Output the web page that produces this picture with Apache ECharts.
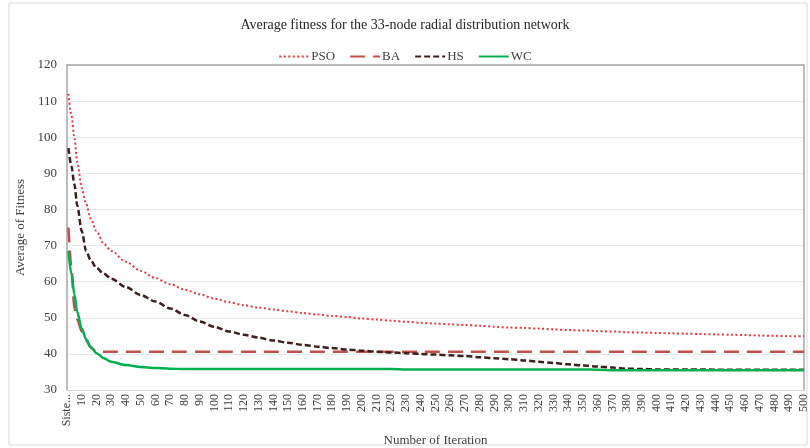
<!DOCTYPE html>
<html>
<head>
<meta charset="utf-8">
<script src="https://cdn.jsdelivr.net/npm/echarts@6/dist/echarts.min.js"></script>
<style>
  html, body { margin: 0; padding: 0; background: #fff; }
  #chart { width: 810px; height: 448px; }
</style>
</head>
<body>
<div id="chart"></div>
<script>
// Iteration numbers at which the average fitness was sampled
const iterations = [1, 3, 5, 7, 10, 13, 16, 20, 25,
  30, 40, 50, 60, 70, 80, 90, 100, 110, 120,
  130, 140, 150, 160, 170, 180, 190, 200, 210, 220,
  230, 240, 250, 260, 270, 280, 290, 300, 310, 320,
  330, 340, 350, 360, 370, 380, 390, 400, 410, 420,
  430, 440, 450, 460, 470, 480, 490, 500];

const psoValues = [112, 106, 100, 93, 86, 81.5, 77.5, 74, 70.5,
  68.5, 65.5, 63, 61, 59.3, 57.8, 56.5, 55.3, 54.3, 53.5,
  52.8, 52.3, 51.8, 51.3, 50.9, 50.5, 50.2, 49.8, 49.5, 49.2,
  48.9, 48.6, 48.4, 48.2, 48.0, 47.8, 47.5, 47.3, 47.2, 47.0,
  46.8, 46.6, 46.5, 46.3, 46.2, 46.0, 45.9, 45.8, 45.7, 45.6,
  45.5, 45.4, 45.3, 45.2, 45.1, 45.0, 44.9, 44.9];

const baValues = [75, 64, 52.5, 49.5, 46.2, 43.8, 41.8, 40.6, 40.6,
  40.6, 40.6, 40.6, 40.6, 40.6, 40.6, 40.6, 40.6, 40.6, 40.6,
  40.6, 40.6, 40.6, 40.6, 40.6, 40.6, 40.6, 40.6, 40.6, 40.6,
  40.6, 40.6, 40.6, 40.6, 40.6, 40.6, 40.6, 40.6, 40.6, 40.6,
  40.6, 40.6, 40.6, 40.6, 40.6, 40.6, 40.6, 40.6, 40.6, 40.6,
  40.6, 40.6, 40.6, 40.6, 40.6, 40.6, 40.6, 40.6];

const hsValues = [97, 92, 87, 81, 74, 68.5, 66, 63.8, 62.2,
  60.8, 58.5, 56.3, 54.5, 52.6, 50.8, 49, 47.5, 46.2, 45.3,
  44.5, 43.7, 43.1, 42.5, 42.0, 41.6, 41.2, 40.9, 40.6, 40.4,
  40.2, 40.0, 39.8, 39.6, 39.4, 39.1, 38.8, 38.5, 38.2, 37.8,
  37.5, 37.1, 36.8, 36.5, 36.2, 35.9, 35.8, 35.7, 35.7, 35.7,
  35.7, 35.6, 35.6, 35.6, 35.6, 35.6, 35.6, 35.6];

const wcValues = [68.5, 62, 56.5, 51.5, 47, 44, 42, 40.2, 38.8,
  37.8, 36.9, 36.4, 36.1, 35.9, 35.8, 35.8, 35.8, 35.8, 35.8,
  35.8, 35.8, 35.8, 35.8, 35.8, 35.8, 35.8, 35.8, 35.8, 35.8,
  35.7, 35.7, 35.7, 35.7, 35.7, 35.7, 35.7, 35.7, 35.7, 35.7,
  35.7, 35.7, 35.7, 35.6, 35.5, 35.5, 35.5, 35.5, 35.5, 35.5,
  35.5, 35.5, 35.5, 35.5, 35.5, 35.5, 35.5, 35.5];

const seriesNames = ['PSO', 'BA', 'HS', 'WC'];
const firstTickLabel = 'Siste...';

const FONT = '"Liberation Serif", "Times New Roman", serif';
const TEXT = '#404040';

function pairs(values) {
  return iterations.map((it, i) => [it, values[i]]);
}

const chart = echarts.init(document.getElementById('chart'), null, { renderer: 'canvas' });

chart.setOption({
  backgroundColor: '#ffffff',
  animation: false,
  title: {
    text: 'Average fitness for the 33-node radial distribution network',
    left: 'center',
    top: 13,
    textStyle: { fontFamily: FONT, fontSize: 14, fontWeight: 'normal', color: '#262626' }
  },
  legend: {
    data: seriesNames,
    top: 45,
    left: 'center',
    itemWidth: 30,
    itemHeight: 10,
    itemGap: 14,
    itemStyle: { opacity: 0 },
    textStyle: { fontFamily: FONT, fontSize: 13, color: TEXT, padding: [0, 0, 0, -3] }
  },
  graphic: [{
    type: 'rect',
    shape: { x: 9, y: 3, width: 798, height: 442 },
    style: { fill: 'none', stroke: '#d9d9d9', lineWidth: 1 },
    silent: true
  }],
  grid: {
    left: 67, right: 6, top: 65, bottom: 58,
    containLabel: false,
    outerBoundsMode: 'none'
  },
  xAxis: [{
    type: 'value',
    min: 0, max: 500, interval: 10,
    name: 'Number of Iteration',
    nameLocation: 'middle',
    nameGap: 43,
    nameTextStyle: { fontFamily: FONT, fontSize: 13, color: TEXT },
    axisLine: { show: true, lineStyle: { color: '#d9d9d9', width: 1 } },
    axisTick: { show: false },
    splitLine: { show: false },
    axisLabel: {
      rotate: 90,
      margin: 4,
      fontFamily: FONT,
      fontSize: 12,
      color: TEXT,
      showMinLabel: true,
      showMaxLabel: true,
      hideOverlap: false,
      interval: 0,
      formatter: v => (v === 0 ? firstTickLabel : String(v))
    }
  }, {
    type: 'value',
    position: 'top',
    min: 0, max: 500,
    axisLine: { show: true, onZero: false, lineStyle: { color: '#a6a6a6', width: 1.5 } },
    axisTick: { show: false },
    axisLabel: { show: false },
    splitLine: { show: false }
  }],
  yAxis: [{
    type: 'value',
    min: 30, max: 120, interval: 10,
    name: 'Average of Fitness',
    nameLocation: 'middle',
    nameRotate: 90,
    nameGap: 38,
    nameTextStyle: { fontFamily: FONT, fontSize: 13, color: TEXT },
    axisLine: { show: true, onZero: false, lineStyle: { color: '#a6a6a6', width: 1.5 } },
    axisTick: { show: false },
    axisLabel: { fontFamily: FONT, fontSize: 13, color: TEXT, margin: 10 },
    splitLine: { show: true, lineStyle: { color: '#e8e8e8', width: 1 } }
  }, {
    type: 'value',
    position: 'right',
    min: 30, max: 120,
    axisLine: { show: true, onZero: false, lineStyle: { color: '#a6a6a6', width: 1.5 } },
    axisTick: { show: false },
    axisLabel: { show: false },
    splitLine: { show: false }
  }],
  series: [{
    name: 'PSO',
    type: 'line',
    data: pairs(psoValues),
    symbol: 'none',
    smooth: 0.3,
    smoothMonotone: 'x',
    color: '#e8383d',
    lineStyle: { color: '#e8383d', width: 2, type: [2, 2.5] }
  }, {
    name: 'BA',
    type: 'line',
    data: pairs(baValues),
    symbol: 'none',
    smooth: 0.3,
    smoothMonotone: 'x',
    color: '#c0504d',
    lineStyle: { color: '#c0504d', width: 2.5, type: [15, 8] }
  }, {
    name: 'HS',
    type: 'line',
    data: pairs(hsValues),
    symbol: 'none',
    smooth: 0.3,
    smoothMonotone: 'x',
    color: '#3f1e1e',
    lineStyle: { color: '#3f1e1e', width: 2.5, type: [6, 3] }
  }, {
    name: 'WC',
    type: 'line',
    data: pairs(wcValues),
    symbol: 'none',
    smooth: 0.3,
    smoothMonotone: 'x',
    color: '#00b050',
    lineStyle: { color: '#00b050', width: 2.5, type: 'solid' }
  }]
});
</script>
</body>
</html>
